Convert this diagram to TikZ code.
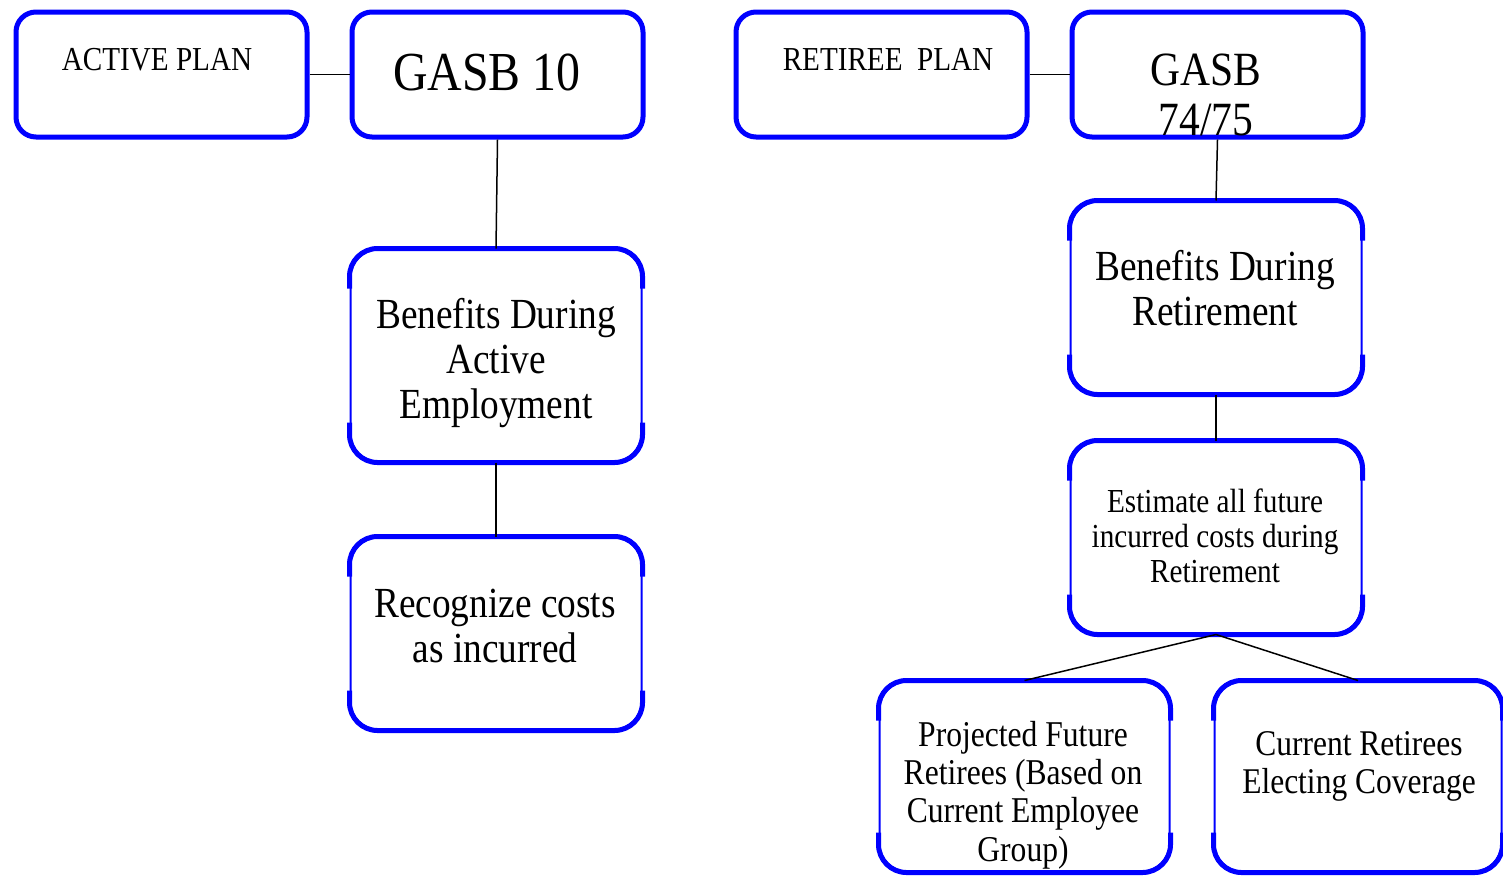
\documentclass[tikz,border=0pt]{standalone}
\usepackage{fontspec}
\setmainfont{Liberation Serif}[FakeStretch=0.87]
\newcommand\capborder[1]{%
  \draw[capline] ([yshift=-40pt]#1.north west) -- (#1.north west) -- (#1.north east) -- ([yshift=-40pt]#1.north east);
  \draw[capline] ([yshift=40pt]#1.south west) -- (#1.south west) -- (#1.south east) -- ([yshift=40pt]#1.south east);}
\newcommand\fs[2]{\fontsize{#1}{#2}\selectfont}
\begin{document}
\begin{tikzpicture}[x=1pt,y=-1pt,
  smallbox/.style={draw=blue, line width=5pt, rounded corners=20pt, minimum width=291pt, minimum height=125pt, inner sep=0pt, anchor=north west},
  tallbox/.style={draw=blue, line width=2pt, rounded corners=28pt, minimum width=291pt, inner sep=0pt, anchor=north west},
  capline/.style={draw=blue, line width=5pt, rounded corners=28pt},
  link/.style={draw=black, line width=1.5pt},
  lbl/.style={anchor=base, align=center, inner sep=0pt}]
\useasboundingbox (0,0) rectangle (1503,876);
% boxes
\node[smallbox] (ap) at (13.5,9.5) {};
\node[smallbox] (g10) at (349.5,9.5) {};
\node[smallbox] (rp) at (733.5,9.5) {};
\node[smallbox] (g74) at (1069.5,9.5) {};
\node[tallbox, minimum height=212pt] (bae) at (349.5,248.5) {};
\node[tallbox, minimum height=192pt] (rec) at (349.5,536.5) {};
\node[tallbox, minimum height=192pt] (bdr) at (1069.5,200.5) {};
\node[tallbox, minimum height=192pt] (est) at (1069.5,440.5) {};
\node[tallbox, minimum height=190pt, minimum width=290pt] (proj) at (878.5,680.5) {};
\node[tallbox, minimum height=190pt, minimum width=287pt] (cur) at (1213.5,680.5) {};
\capborder{bae}\capborder{rec}\capborder{bdr}\capborder{est}\capborder{proj}\capborder{cur}
% connectors
\draw[link] (ap.east) -- (g10.west);
\draw[link] (rp.east) -- (g74.west);
\draw[link] (g10.south) -- (bae.north);
\draw[link] (bae.south) -- (rec.north);
\draw[link] (g74.south) -- (bdr.north);
\draw[link] (bdr.south) -- (est.north);
\draw[link] (est.south) -- (proj.north);
\draw[link] (est.south) -- (cur.north);
% labels (base = baseline of last line)
\node[lbl, font=\fs{33.5}{38}] (t1) at (157,70) {ACTIVE PLAN};
\node[lbl, font=\fs{55}{60}] (t2) at (487,90) {GASB 10};
\node[lbl, font=\fs{33.5}{38}] (t3) at (888,70) {RETIREE~ PLAN};
\node[lbl, font=\fs{47.7}{50}] (t4) at (1206,135) {GASB\\74/75};
\node[lbl, font=\fs{42.9}{45}] (t5) at (496,418) {Benefits During\\Active\\Employment};
\node[lbl, font=\fs{42.9}{45}] (t6) at (495,662) {Recognize costs\\as incurred};
\node[lbl, font=\fs{42.9}{45}] (t7) at (1215,325) {Benefits During\\Retirement};
\node[lbl, font=\fs{33.6}{35}] (t8) at (1215,582) {Estimate all future\\incurred costs during\\Retirement};
\node[lbl, font=\fs{36.3}{38.3}] (t9) at (1023,861) {Projected Future\\Retirees (Based on\\Current Employee\\Group)};
\node[lbl, font=\fs{36.2}{38}] (t10) at (1359,793) {Current Retirees\\Electing Coverage};
\end{tikzpicture}
\end{document}
